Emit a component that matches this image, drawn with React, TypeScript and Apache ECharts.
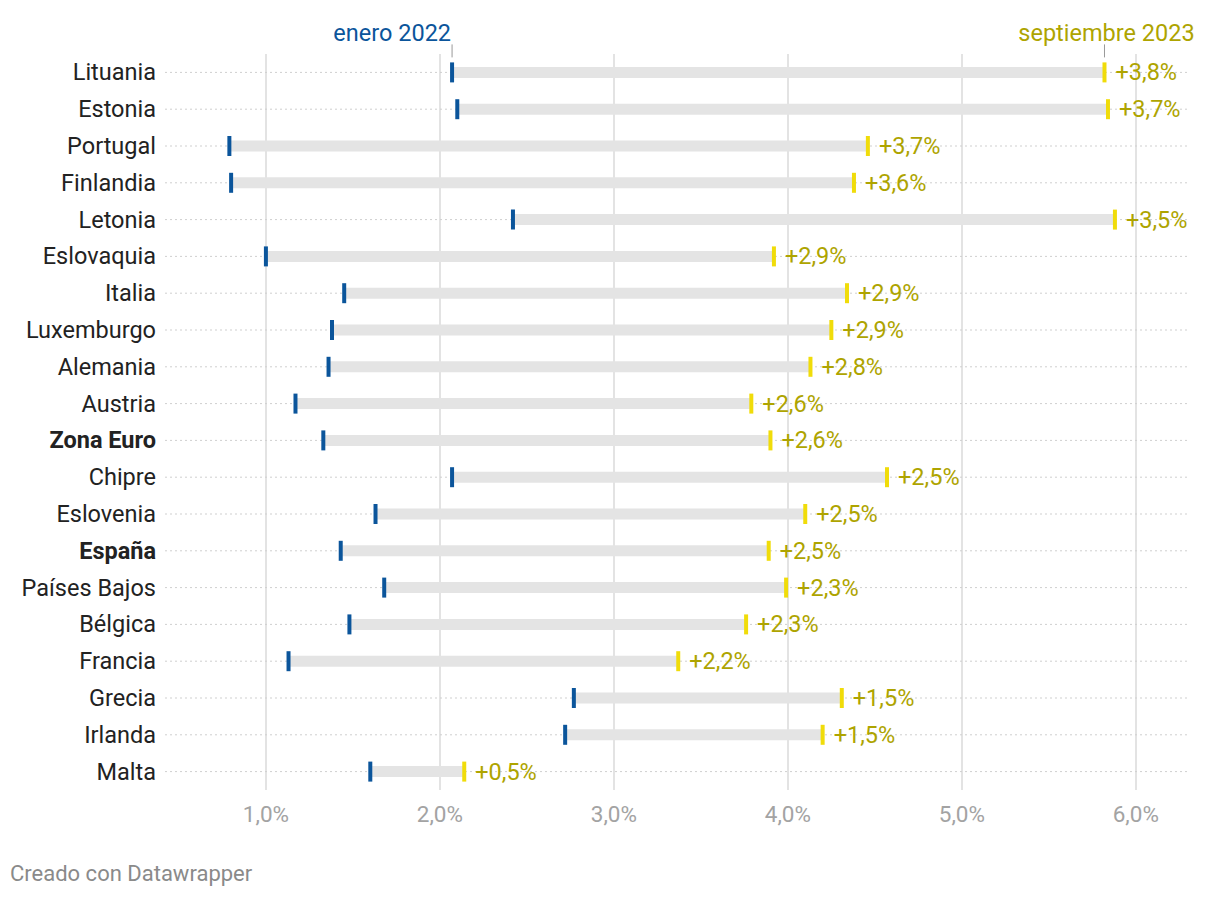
import React, { useEffect, useRef } from "react";
import * as echarts from "echarts";

const countries = [
  "Lituania", "Estonia", "Portugal", "Finlandia", "Letonia", "Eslovaquia", "Italia",
  "Luxemburgo", "Alemania", "Austria", "Zona Euro", "Chipre", "Eslovenia", "España",
  "Países Bajos", "Bélgica", "Francia", "Grecia", "Irlanda", "Malta",
];
const boldCountries = ["Zona Euro", "España"];
const jan2022 = [2.07, 2.10, 0.79, 0.80, 2.42, 1.00, 1.45, 1.38, 1.36, 1.17, 1.33, 2.07, 1.63, 1.43, 1.68, 1.48, 1.13, 2.77, 2.72, 1.60];
const sep2023 = [5.82, 5.84, 4.46, 4.38, 5.88, 3.92, 4.34, 4.25, 4.13, 3.79, 3.90, 4.57, 4.10, 3.89, 3.99, 3.76, 3.37, 4.31, 4.20, 2.14];
const changes = [3.8, 3.7, 3.7, 3.6, 3.5, 2.9, 2.9, 2.9, 2.8, 2.6, 2.6, 2.5, 2.5, 2.5, 2.3, 2.3, 2.2, 1.5, 1.5, 0.5];
const gridTicks = [1, 2, 3, 4, 5, 6];
const startLabel = "enero 2022";
const endLabel = "septiembre 2023";
const footer = "Creado con Datawrapper";

const BLUE = "#0b559b";
const YELLOW = "#f0dc0a";
const OLIVE = "#aea400";
const FONT = "Roboto";

const fmt = (v: number) => v.toFixed(1).replace(".", ",");

export default function App() {
  const ref = useRef<HTMLDivElement>(null);
  useEffect(() => {
    document.body.style.margin = "0";
    if (!ref.current) return;
    const chart = echarts.init(ref.current, undefined, { renderer: "svg" });
    const data = countries.map((c, i) => [i, jan2022[i], sep2023[i], changes[i]]);
    chart.setOption({
      animation: false,
      textStyle: { fontFamily: FONT },
      grid: { left: 165, right: 32, top: 54, bottom: 108, containLabel: false },
      xAxis: {
        type: "value",
        min: 0.42,
        max: 6.3,
        splitNumber: 6,
        axisLine: { show: false },
        axisTick: { show: false },
        splitLine: { show: false },
        axisLabel: {
          color: "#a3a3a3",
          fontSize: 22.5,
          fontFamily: FONT,
          margin: 12,
          formatter: (v: number) => (Math.abs(v - Math.round(v)) < 1e-6 ? fmt(v) + "%" : ""),
        },
      },
      yAxis: {
        type: "category",
        data: countries,
        inverse: true,
        axisLine: { show: false },
        axisTick: { show: false },
        splitLine: { show: false },
        axisLabel: {
          margin: 9,
          fontSize: 23.5,
          color: "#222",
          fontFamily: FONT,
          formatter: (v: string) => (boldCountries.includes(v) ? `{b|${v}}` : `{n|${v}}`),
          rich: {
            b: { fontWeight: "bold", fontSize: 23.5, color: "#222", fontFamily: FONT },
            n: { fontSize: 23.5, color: "#222", fontFamily: FONT },
          },
        },
      },
      graphic: [
        {
          type: "text",
          left: 10,
          top: 862,
          style: { text: footer, fill: "#8a8a8a", fontSize: 22, fontFamily: FONT },
        },
      ],
      series: [
        {
          type: "line",
          data: [],
          z: 1,
          silent: true,
          markLine: {
            silent: true,
            symbol: "none",
            z: 1,
            label: { show: false },
            lineStyle: { color: "#e3e3e3", width: 2, type: "solid" },
            data: gridTicks.map((t) => ({ xAxis: t })),
          },
        },
        {
          type: "custom",
          z: 10,
          data,
          encode: { x: [1, 2], y: 0 },
          renderItem: (params: any, api: any) => {
            const idx = api.value(0);
            const s = api.coord([api.value(1), idx]);
            const e = api.coord([api.value(2), idx]);
            const y = s[1];
            const cs = params.coordSys;
            const children: any[] = [
              {
                type: "line",
                shape: { x1: cs.x, y1: y, x2: cs.x + cs.width, y2: y },
                style: { stroke: "#cfcfcf", lineWidth: 1, lineDash: [2, 3] },
              },
              {
                type: "rect",
                shape: { x: s[0], y: y - 5.5, width: e[0] - s[0], height: 11 },
                style: { fill: "#e4e4e4" },
              },
              {
                type: "rect",
                shape: { x: s[0] - 2, y: y - 10, width: 4, height: 20 },
                style: { fill: BLUE },
              },
              {
                type: "rect",
                shape: { x: e[0] - 2, y: y - 10, width: 4, height: 20 },
                style: { fill: YELLOW },
              },
              {
                type: "text",
                x: e[0] + 11,
                y: y,
                style: {
                  text: "+" + fmt(api.value(3)) + "%",
                  fill: OLIVE,
                  fontSize: 23.5,
                  fontFamily: FONT,
                  align: "left",
                  verticalAlign: "middle",
                },
              },
            ];
            if (idx === 0) {
              children.push(
                {
                  type: "line",
                  shape: { x1: s[0], y1: y - 28, x2: s[0], y2: y - 15 },
                  style: { stroke: "#999", lineWidth: 1 },
                },
                {
                  type: "text",
                  x: s[0] - 1,
                  y: y - 39,
                  style: {
                    text: startLabel,
                    fill: BLUE,
                    fontSize: 23.5,
                    fontFamily: FONT,
                    align: "right",
                    verticalAlign: "middle",
                  },
                },
                {
                  type: "line",
                  shape: { x1: e[0], y1: y - 28, x2: e[0], y2: y - 15 },
                  style: { stroke: "#999", lineWidth: 1 },
                },
                {
                  type: "text",
                  x: e[0] + 2,
                  y: y - 39,
                  style: {
                    text: endLabel,
                    fill: OLIVE,
                    fontSize: 23.5,
                    fontFamily: FONT,
                    align: "center",
                    verticalAlign: "middle",
                  },
                }
              );
            }
            return { type: "group", children };
          },
        },
      ],
    });
    return () => chart.dispose();
  }, []);
  return <div ref={ref} style={{ width: 1220, height: 898 }} />;
}
